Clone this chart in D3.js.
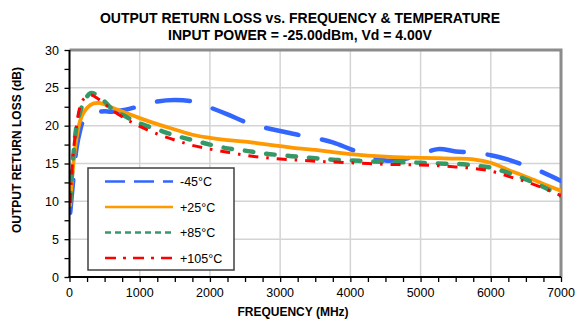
<!DOCTYPE html>
<html><head><meta charset="utf-8">
<script src="https://cdn.jsdelivr.net/npm/d3@7"></script>
<style>
html,body{margin:0;padding:0;background:#fff;}
svg{display:block;font-family:"Liberation Sans",Arial,sans-serif;}
</style></head>
<body><svg id="c" width="577" height="322"></svg>
<script>
const titleLines = ["OUTPUT RETURN LOSS vs. FREQUENCY & TEMPERATURE", "INPUT POWER = -25.00dBm, Vd = 4.00V"];
const xLabel = "FREQUENCY (MHz)";
const yLabel = "OUTPUT RETURN LOSS (dB)";
const xTicks = [0, 1000, 2000, 3000, 4000, 5000, 6000, 7000];
const yTicks = [0, 5, 10, 15, 20, 25, 30];
const seriesNames = ["-45°C", "+25°C", "+85°C", "+105°C"];
const freqMHz = [10, 50, 100, 150, 200, 300, 400, 500, 600, 800, 1000, 1250, 1500, 1750, 2000, 2250, 2500, 2750, 3000, 3250, 3500, 3750, 4000, 4250, 4500, 4750, 5000, 5250, 5500, 5750, 6000, 6250, 6500, 6750, 7000];
const rlM45 = [8.5, 12.5, 17.0, 19.3, 20.7, 21.5, 21.8, 21.9, 21.85, 22.1, 22.6, 23.2, 23.4, 23.2, 22.4, 21.5, 20.5, 19.8, 19.3, 18.8, 18.35, 17.8, 16.9, 16.05, 15.4, 15.55, 16.2, 16.9, 16.6, 16.4, 16.1, 15.5, 14.7, 13.8, 12.7];
const rlP25 = [9.5, 14.5, 18.3, 20.6, 21.7, 22.75, 23.0, 22.8, 22.4, 21.7, 21.0, 20.2, 19.5, 18.8, 18.4, 18.1, 17.9, 17.6, 17.3, 17.0, 16.8, 16.5, 16.25, 16.05, 15.9, 15.8, 15.75, 15.7, 15.65, 15.55, 15.1, 14.15, 13.25, 12.3, 11.4];
const rlP85 = [10.0, 15.5, 19.9, 21.8, 23.0, 24.3, 24.0, 23.2, 22.25, 21.2, 20.3, 19.5, 18.7, 18.1, 17.5, 17.0, 16.7, 16.35, 16.1, 15.9, 15.7, 15.5, 15.4, 15.3, 15.2, 15.15, 15.1, 15.0, 14.95, 14.75, 14.45, 13.75, 12.9, 11.9, 10.7];
const rlP105 = [9.8, 16.0, 20.0, 22.5, 23.5, 24.05, 23.6, 22.9, 22.1, 20.9, 19.9, 18.9, 18.1, 17.4, 16.9, 16.5, 16.1, 15.8, 15.6, 15.45, 15.3, 15.2, 15.1, 15.0, 14.9, 14.85, 14.8, 14.7, 14.55, 14.35, 14.0, 13.3, 12.6, 11.75, 10.75];

const seriesVals = [rlM45, rlP25, rlP85, rlP105];
const styles = [
  {color:"#3366FF", w:4.5, dash:"33 24", cap:"round", lw:2.5, ldash:"20 9"},
  {color:"#FF9900", w:3.8, dash:null, cap:"round", lw:2.5, ldash:null},
  {color:"#339966", w:4.5, dash:"8.5 13", cap:"round", lw:2.5, ldash:"6 4"},
  {color:"#FF0000", w:3, dash:"10 8 2.5 8", cap:"butt", lw:2.5, ldash:"11 7 3 7"}
];

const svg = d3.select("#c");
const L = 69.5, R = 561, T = 50, B = 277;
const x = d3.scaleLinear().domain([0, 7000]).range([L, R]);
const y = d3.scaleLinear().domain([0, 30]).range([B, T]);

// gridlines
const g = svg.append("g");
g.selectAll("line.h").data(yTicks.filter(v => v > 0 && v < 30)).enter().append("line")
  .attr("x1", L).attr("x2", R).attr("y1", d => y(d)).attr("y2", d => y(d))
  .attr("stroke", "#d4d4d4").attr("stroke-width", 1.5);
g.selectAll("line.v").data(xTicks.filter(v => v > 0 && v < 7000)).enter().append("line")
  .attr("y1", T).attr("y2", B).attr("x1", d => x(d)).attr("x2", d => x(d))
  .attr("stroke", "#d4d4d4").attr("stroke-width", 1.5);

// top & right border
svg.append("path").attr("d", `M${L},${T}H${R}V${B}`).attr("fill", "none")
  .attr("stroke", "#8c8c8c").attr("stroke-width", 3);

// curves
svg.append("clipPath").attr("id", "clip").append("rect")
  .attr("x", L).attr("y", T - 2).attr("width", R - L).attr("height", B - T + 2);
const line = d3.line().x(d => x(d[0])).y(d => y(d[1])).curve(d3.curveCatmullRom.alpha(0.5));
const cg = svg.append("g").attr("clip-path", "url(#clip)");
seriesVals.forEach((vals, i) => {
  const s = styles[i];
  cg.append("path").datum(freqMHz.map((f, k) => [f, vals[k]]))
    .attr("d", line).attr("fill", "none")
    .attr("stroke", s.color).attr("stroke-width", s.w)
    .attr("stroke-linecap", s.cap).attr("stroke-linejoin", "round")
    .attr("stroke-dasharray", s.dash);
});

// axes
const xAxis = d3.axisBottom(x).tickValues(d3.range(0, 7001, 250)).tickSize(5).tickFormat("");
const xa = svg.append("g").attr("transform", `translate(0,${B})`).call(xAxis);
xa.select(".domain").remove();
xa.selectAll("line").attr("stroke", "#000").attr("stroke-width", 1.3);
const yAxis = d3.axisLeft(y).tickValues(d3.range(0, 30.01, 2.5)).tickSize(5).tickFormat("");
const ya = svg.append("g").attr("transform", `translate(${L},0)`).call(yAxis);
ya.select(".domain").remove();
ya.selectAll("line").attr("stroke", "#000").attr("stroke-width", 1.3);
svg.append("line").attr("x1", L).attr("x2", L).attr("y1", T).attr("y2", B + 1).attr("stroke", "#000").attr("stroke-width", 2);
svg.append("line").attr("x1", L - 1).attr("x2", R).attr("y1", B).attr("y2", B).attr("stroke", "#000").attr("stroke-width", 2);

// tick labels
svg.selectAll("text.xt").data(xTicks).enter().append("text")
  .attr("x", d => x(d)).attr("y", 297).attr("text-anchor", "middle")
  .attr("font-size", 12.5).attr("fill", "#000").text(d => d);
svg.selectAll("text.yt").data(yTicks).enter().append("text")
  .attr("x", 59).attr("y", d => y(d) + 4.5).attr("text-anchor", "end")
  .attr("font-size", 12.5).attr("fill", "#000").text(d => d);

// titles
svg.selectAll("text.t").data(titleLines).enter().append("text")
  .attr("x", 300).attr("y", (d, i) => 23 + i * 16.5).attr("text-anchor", "middle")
  .attr("font-size", 14).attr("font-weight", "bold").attr("fill", "#000").text(d => d);
svg.append("text").attr("x", 293).attr("y", 316).attr("text-anchor", "middle")
  .attr("font-size", 12).attr("font-weight", "bold").text(xLabel);
svg.append("text").attr("transform", "translate(21,150) rotate(-90)").attr("text-anchor", "middle")
  .attr("font-size", 12).attr("font-weight", "bold").text(yLabel);

// legend
const lg = svg.append("g");
lg.append("rect").attr("x", 88).attr("y", 168).attr("width", 146).attr("height", 102)
  .attr("fill", "#fff").attr("stroke", "#404040").attr("stroke-width", 1.5);
seriesNames.forEach((n, i) => {
  const s = styles[i];
  const yy = 181.5 + i * 25.5;
  lg.append("line").attr("x1", 105).attr("x2", 173).attr("y1", yy).attr("y2", yy)
    .attr("stroke", s.color).attr("stroke-width", s.lw).attr("stroke-dasharray", s.ldash);
  lg.append("text").attr("x", 180).attr("y", yy + 4.5).attr("font-size", 12.5).text(n);
});
</script></body></html>
